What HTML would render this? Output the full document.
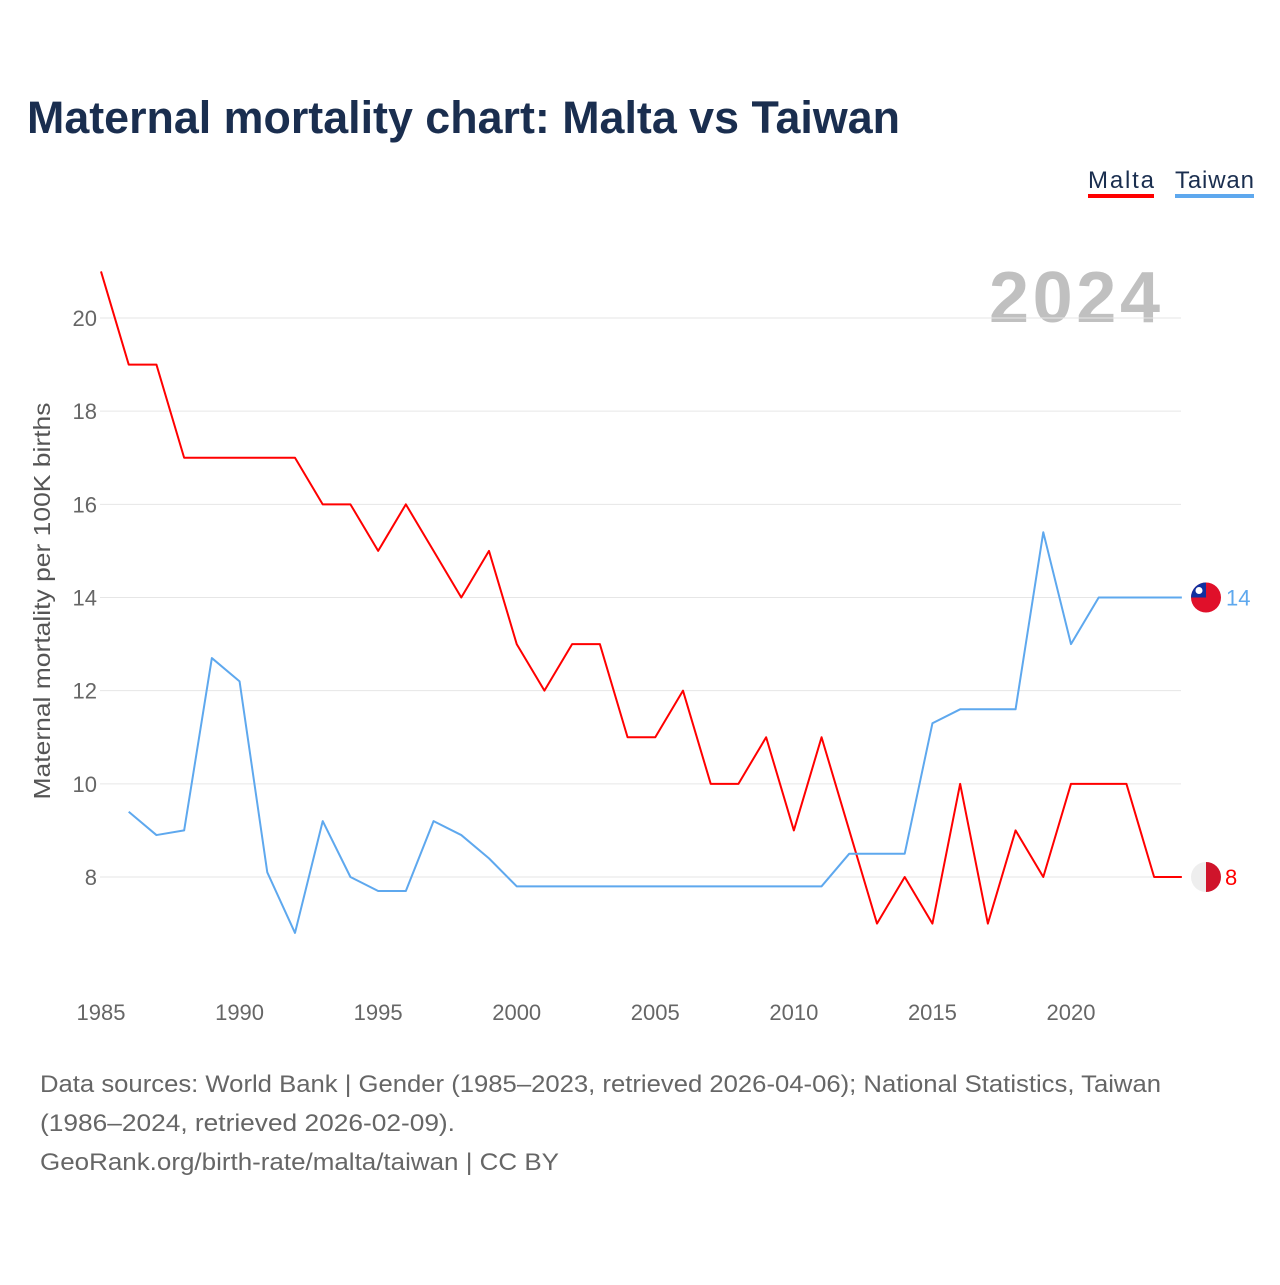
<!DOCTYPE html>
<html><head><meta charset="utf-8"><style>
body{margin:0;background:#fff;font-family:"Liberation Sans",sans-serif;}
</style></head><body>
<svg width="1280" height="1280" xmlns="http://www.w3.org/2000/svg" id="chart">
<text x="27" y="133" font-size="45" font-weight="bold" fill="#1a2e4f" textLength="873" lengthAdjust="spacingAndGlyphs">Maternal mortality chart: Malta vs Taiwan</text>
<g>
<text x="1088" y="188" font-size="24" fill="#1a2e4f" textLength="66">Malta</text>
<rect x="1088" y="194" width="66" height="4" fill="#ff0000"/>
<text x="1175" y="188" font-size="24" fill="#1a2e4f" textLength="79">Taiwan</text>
<rect x="1175" y="194" width="79" height="4" fill="#5ea8ee"/>
</g>
<text x="1160" y="322" font-size="72" font-weight="bold" fill="#c0c0c0" text-anchor="end" textLength="171">2024</text>
<text transform="translate(50,601) rotate(-90)" font-size="23" fill="#555" text-anchor="middle" textLength="397" lengthAdjust="spacingAndGlyphs">Maternal mortality per 100K births</text>
<g id="grid"></g><g id="series"></g>
<g font-size="24" fill="#666">
<text x="40" y="1092" textLength="1121" lengthAdjust="spacingAndGlyphs">Data sources: World Bank | Gender (1985–2023, retrieved 2026-04-06); National Statistics, Taiwan</text>
<text x="40" y="1131" textLength="415" lengthAdjust="spacingAndGlyphs">(1986–2024, retrieved 2026-02-09).</text>
<text x="40" y="1170" textLength="519" lengthAdjust="spacingAndGlyphs">GeoRank.org/birth-rate/malta/taiwan | CC BY</text>
</g>
</svg>
<script>
const yTicks=[8,10,12,14,16,18,20];
const xTicks=[1985,1990,1995,2000,2005,2010,2015,2020];
const maltaYears=[1985,1986,1987,1988,1989,1990,1991,1992,1993,1994,1995,1996,1997,1998,1999,2000,2001,2002,2003,2004,2005,2006,2007,2008,2009,2010,2011,2012,2013,2014,2015,2016,2017,2018,2019,2020,2021,2022,2023,2024];
const maltaValues=[21,19,19,17,17,17,17,17,16,16,15,16,15,14,15,13,12,13,13,11,11,12,10,10,11,9,11,9,7,8,7,10,7,9,8,10,10,10,8,8];
const taiwanYears=[1986,1987,1988,1989,1990,1991,1992,1993,1994,1995,1996,1997,1998,1999,2000,2001,2002,2003,2004,2005,2006,2007,2008,2009,2010,2011,2012,2013,2014,2015,2016,2017,2018,2019,2020,2021,2022,2023,2024];
const taiwanValues=[9.4,8.9,9.0,12.7,12.2,8.1,6.8,9.2,8.0,7.7,7.7,9.2,8.9,8.4,7.8,7.8,7.8,7.8,7.8,7.8,7.8,7.8,7.8,7.8,7.8,7.8,8.5,8.5,8.5,11.3,11.6,11.6,11.6,15.4,13.0,14,14,14,14];
const NS="http://www.w3.org/2000/svg";
const x=v=>101+(v-1985)*27.714;
const y=v=>877-(v-8)*46.583;
function mk(t,a,p){const e=document.createElementNS(NS,t);for(const k in a)e.setAttribute(k,a[k]);p.appendChild(e);return e;}
const grid=document.getElementById('grid'),series=document.getElementById('series');
yTicks.forEach(t=>{
 const l=mk('line',{x1:100,x2:1181,y1:y(t),y2:y(t),stroke:'#e6e6e6','stroke-width':1},grid);
 
 
 const tx=mk('text',{x:97,y:y(t)+8,'font-size':22,fill:'#666','text-anchor':'end'},grid);
 tx.textContent=t;
 
 
});
xTicks.forEach(t=>{
 const tx=mk('text',{x:x(t),y:1020,'font-size':22,fill:'#666','text-anchor':'middle'},grid);
 tx.textContent=t;
 
 
});
function line(xs,vs,c,name){
 const p=mk('polyline',{points:xs.map((d,i)=>x(d)+','+y(vs[i])).join(' '),fill:'none',stroke:c,'stroke-width':2,'stroke-linejoin':'round'},series);
 
 
}
line(maltaYears,maltaValues,'#ff0000','malta-line');
line(taiwanYears,taiwanValues,'#5ea8ee','taiwan-line');
const mv=maltaValues[maltaValues.length-1], tv=taiwanValues[taiwanValues.length-1];
const ex=1206;
const mf=mk('g',{},series);


mk('circle',{cx:ex,cy:y(mv),r:15,fill:'#eeeeee'},mf);
mk('path',{d:`M${ex},${y(mv)-15} A15,15 0 0 1 ${ex},${y(mv)+15} Z`,fill:'#cf142b'},mf);
const ml=mk('text',{x:1225,y:y(mv)+8,'font-size':22,fill:'#ff0000'},series);
ml.textContent=mv;


const tf=mk('g',{},series);


mk('circle',{cx:ex,cy:y(tv),r:15,fill:'#e0102a'},tf);
mk('path',{d:`M${ex-15},${y(tv)} A15,15 0 0 1 ${ex},${y(tv)-15} L${ex},${y(tv)} Z`,fill:'#1030a0'},tf);
mk('circle',{cx:ex-7,cy:y(tv)-7,r:3.5,fill:'#fff'},tf);
const tl=mk('text',{x:1226,y:y(tv)+8,'font-size':22,fill:'#5ea8ee'},series);
tl.textContent=tv;


</script>
</body></html>
